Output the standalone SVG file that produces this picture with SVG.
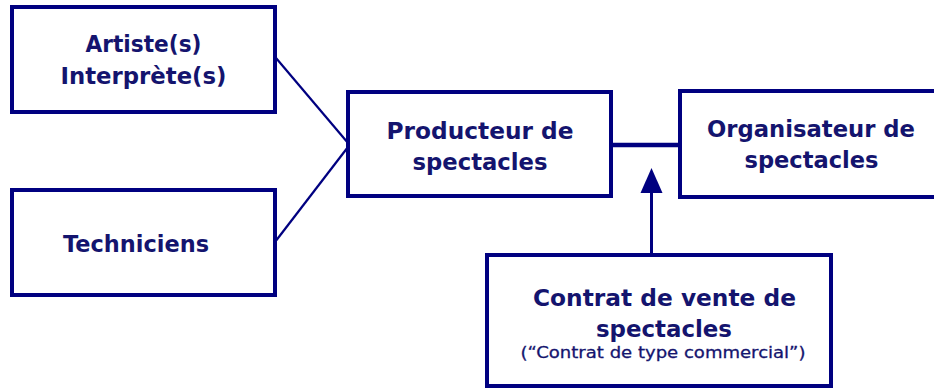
<svg xmlns="http://www.w3.org/2000/svg" width="934" height="389" viewBox="0 0 934 389">
<style>
.box{fill:#fff;stroke:#000080;stroke-width:4}
.t{font-family:"DejaVu Sans",Verdana,sans-serif;font-weight:bold;font-size:23px;fill:#14146e;text-anchor:middle}
.s{font-family:"DejaVu Sans",Verdana,sans-serif;font-size:16px;fill:#14146e;text-anchor:middle;stroke:#14146e;stroke-width:0.3}
.ln{stroke:#000080;fill:none}
</style>
<rect width="934" height="389" fill="#fff"/>
<g id="connectors">
<line class="ln" x1="276" y1="58" x2="348" y2="143" stroke-width="2.2"/>
<line class="ln" x1="348" y1="147" x2="275" y2="242" stroke-width="2.2"/>
<line class="ln" x1="611" y1="145" x2="680" y2="145" stroke-width="4.5"/>
<line class="ln" x1="651.5" y1="255" x2="651.5" y2="190" stroke-width="3"/>
<polygon points="651.5,168 640.5,193 662.5,193" fill="#000080"/>
</g>
<g id="artistes">
<rect class="box" x="12" y="7" width="263" height="105"/>
<text class="t" x="143.5" y="52" textLength="116" lengthAdjust="spacingAndGlyphs">Artiste(s)</text>
<text class="t" x="143.5" y="84" textLength="166" lengthAdjust="spacingAndGlyphs">Interprète(s)</text>
</g>
<g id="techniciens">
<rect class="box" x="12" y="190" width="263" height="105"/>
<text class="t" x="136" y="252" textLength="146" lengthAdjust="spacingAndGlyphs">Techniciens</text>
</g>
<g id="producteur">
<rect class="box" x="348" y="92" width="263" height="104"/>
<text class="t" x="480" y="139" textLength="187" lengthAdjust="spacingAndGlyphs">Producteur de</text>
<text class="t" x="480" y="170" textLength="135" lengthAdjust="spacingAndGlyphs">spectacles</text>
</g>
<g id="organisateur">
<rect class="box" x="680" y="91" width="262" height="106"/>
<text class="t" x="811" y="137" textLength="208" lengthAdjust="spacingAndGlyphs">Organisateur de</text>
<text class="t" x="811.5" y="168" textLength="134" lengthAdjust="spacingAndGlyphs">spectacles</text>
</g>
<g id="contrat">
<rect class="box" x="487" y="255" width="344" height="131"/>
<text class="t" x="664.5" y="306" textLength="263" lengthAdjust="spacingAndGlyphs">Contrat de vente de</text>
<text class="t" x="664" y="337" textLength="136" lengthAdjust="spacingAndGlyphs">spectacles</text>
<text class="s" x="663" y="358" textLength="285" lengthAdjust="spacingAndGlyphs">(“Contrat de type commercial”)</text>
</g>
</svg>
